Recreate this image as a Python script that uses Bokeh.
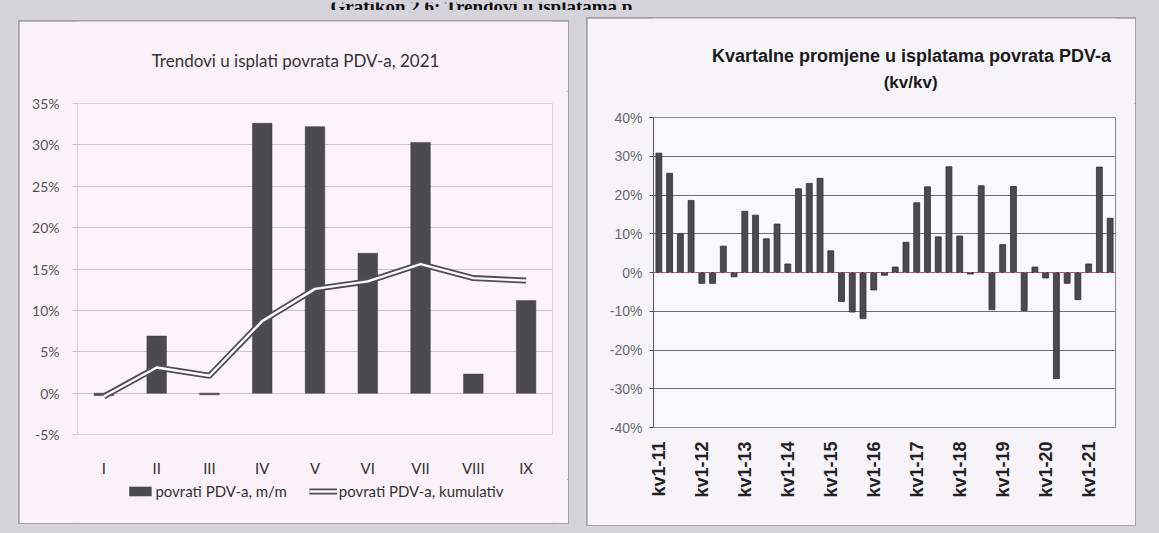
import numpy as np
from bokeh.plotting import figure
from bokeh.models import (Range1d, FactorRange, FixedTicker, PrintfTickFormatter,
                          Label, Legend, LegendItem, Span, ColumnDataSource, Spacer)
from bokeh.layouts import row, column
from bokeh.embed import file_html
from bokeh.resources import INLINE

# ---------------- data ----------------
months = ["I", "II", "III", "IV", "V", "VI", "VII", "VIII", "IX"]
mm_values = [-0.3, 6.9, -0.2, 32.6, 32.2, 16.9, 30.3, 2.3, 11.2]
cum_values = [-0.4, 3.1, 2.1, 8.7, 12.6, 13.5, 15.6, 13.9, 13.6]
left_ticks = [-5, 0, 5, 10, 15, 20, 25, 30, 35]

years = ["11", "12", "13", "14", "15", "16", "17", "18", "19", "20", "21"]
quarters = [f"kv{q}-{y}" for y in years for q in (1, 2, 3, 4)][:43]
qoq_values = [30.8, 25.6, 10.0, 18.6, -2.8, -2.8, 6.8, -1.1,
              15.8, 14.8, 8.7, 12.5, 2.2, 21.6, 23.0, 24.3,
              5.6, -7.5, -10.2, -11.9, -4.5, -0.7, 1.4, 7.8,
              18.0, 22.1, 9.2, 27.3, 9.4, -0.4, 22.4, -9.6,
              7.2, 22.2, -9.8, 1.4, -1.4, -27.4, -2.8, -7.0,
              2.2, 27.2, 14.0]
right_ticks = [-40, -30, -20, -10, 0, 10, 20, 30, 40]
right_tick_labels = [q for q in quarters if q.startswith("kv1")]

page_title = "Grafikon 2.6: Trendovi u isplatama p"
left_title = "Trendovi u isplati povrata PDV-a, 2021"
right_title = ["Kvartalne promjene u isplatama povrata PDV-a", "(kv/kv)"]
legend_labels = ["povrati PDV-a, m/m", "povrati PDV-a, kumulativ"]

LFONT = "Lato"
RFONT = "Liberation Sans"
PAGE_BG = "#d5d4da"
LBG = "#fbf2f9"
RBG = "#f6f4f9"
BAR = "#4b4a50"
BAR_EDGE = "#3a393e"
LINE_DARK = "#4f4e54"


def strip(w, h, bg, **kw):
    """A plain strip whose frame fills the figure; used for titles and legend."""
    f = figure(width=w, height=h, x_axis_location=None, y_axis_location=None,
               min_border=0, output_backend="svg", toolbar_location=None, **kw)
    f.title.visible = False
    f.grid.visible = False
    f.outline_line_color = None
    f.background_fill_color = bg
    f.border_fill_color = bg
    return f


# ---------------- page heading (cut by the scan) ----------------
top = strip(1159, 10, PAGE_BG, x_range=Range1d(0, 1159), y_range=Range1d(10, 0))
top.add_layout(Label(x=330, y=4, text=page_title, text_baseline="alphabetic",
                     text_font="Liberation Serif", text_font_style="bold",
                     text_font_size="19px", text_color="#111111"))

# ---------------- left chart ----------------
t1 = strip(549, 70, LBG, x_range=Range1d(0, 549), y_range=Range1d(70, 0))
t1.add_layout(Label(x=252, y=39, text=left_title, text_align="center",
                    text_baseline="middle", text_font=LFONT,
                    text_font_size="17px", text_color="#333333"))

p1 = figure(width=549, height=388, x_range=FactorRange(*months),
            y_range=Range1d(-5, 35), output_backend="svg", toolbar_location=None,
            min_border_left=58, min_border_right=16, min_border_top=12,
            min_border_bottom=45)
p1.title.visible = False
p1.background_fill_color = "#fcf4fa"
p1.border_fill_color = LBG
p1.outline_line_color = "#ddd3dc"

src1 = ColumnDataSource(dict(m=months, mm=mm_values, cum=cum_values))
p1.vbar(x="m", top="mm", width=0.37, source=src1,
        fill_color=BAR, line_color=BAR_EDGE, line_width=0.5)
p1.line(x="m", y="cum", source=src1, line_color=LINE_DARK, line_width=6,
        line_join="round")
p1.line(x="m", y="cum", source=src1, line_color="#ffffff", line_width=2.4,
        line_join="round")

p1.xgrid.visible = False
p1.ygrid.ticker = FixedTicker(ticks=left_ticks)
p1.ygrid.grid_line_color = "#cbc5cb"
p1.yaxis.ticker = FixedTicker(ticks=left_ticks)
p1.yaxis.formatter = PrintfTickFormatter(format="%d%%")
p1.yaxis.axis_line_color = None
p1.yaxis.major_tick_line_color = "#cbc5cb"
p1.yaxis.major_tick_out = 5
p1.yaxis.major_tick_in = 0
p1.yaxis.minor_tick_line_color = None
p1.yaxis.major_label_standoff = 13
p1.yaxis.major_label_text_font = LFONT
p1.yaxis.major_label_text_font_size = "14px"
p1.yaxis.major_label_text_color = "#555555"

p1.xaxis.axis_line_color = None
p1.xaxis.major_tick_line_color = None
p1.xaxis.minor_tick_line_color = None
p1.xaxis.major_label_standoff = 18
p1.xaxis.major_label_text_font = LFONT
p1.xaxis.major_label_text_font_size = "15px"
p1.xaxis.major_label_text_color = "#333333"

# legend strip under the left chart: same series, kept outside its visible range
lg1 = strip(549, 44, LBG, x_range=FactorRange(*months), y_range=Range1d(40, 41))
lg1.min_border_left = 0
lg1.min_border_right = 5
lg1.min_border_top = 3
lg1.min_border_bottom = 0
lb = lg1.vbar(x="m", top="mm", width=0.37, source=src1,
              fill_color=BAR, line_color=None)
lo = lg1.line(x="m", y="cum", source=src1, line_color=LINE_DARK, line_width=6)
li = lg1.line(x="m", y="cum", source=src1, line_color="#ffffff", line_width=2.4)
legend = Legend(items=[LegendItem(label=legend_labels[0], renderers=[lb]),
                       LegendItem(label=legend_labels[1], renderers=[lo, li])],
                orientation="horizontal", location="top_center",
                background_fill_alpha=0, border_line_color=None,
                glyph_width=28, glyph_height=12, label_text_font=LFONT,
                label_text_font_size="15px", label_text_color="#333333",
                spacing=22, label_standoff=2, margin=0, padding=4)
lg1.add_layout(legend, "center")

# ---------------- right chart ----------------
t2 = strip(548, 85, RBG, x_range=Range1d(0, 548), y_range=Range1d(85, 0))
t2.add_layout(Label(x=306, y=37, text=right_title[0], text_align="center",
                    text_baseline="middle", text_font=RFONT, text_font_style="bold",
                    text_font_size="18px", text_color="#1a1a1a"))
t2.add_layout(Label(x=305, y=64, text=right_title[1], text_align="center",
                    text_baseline="middle", text_font=RFONT, text_font_style="bold",
                    text_font_size="17px", text_color="#1a1a1a"))

qx = list(range(len(quarters)))
p2 = figure(width=548, height=422, x_range=Range1d(-0.5, len(quarters) - 0.5),
            y_range=Range1d(-40, 40), output_backend="svg", toolbar_location=None,
            min_border_left=66, min_border_right=20, min_border_top=14,
            min_border_bottom=98)
p2.title.visible = False
p2.background_fill_color = "#f9f8fc"
p2.border_fill_color = RBG
p2.outline_line_color = "#8a8a8e"

src2 = ColumnDataSource(dict(x=qx, q=quarters, v=qoq_values))
p2.vbar(x="x", top="v", width=0.55, source=src2,
        fill_color="#4a4a50", line_color="#2f2f34", line_width=0.8)

p2.xgrid.visible = False
p2.ygrid.ticker = FixedTicker(ticks=right_ticks)
p2.ygrid.grid_line_color = "#707074"
p2.yaxis.ticker = FixedTicker(ticks=right_ticks)
p2.yaxis.formatter = PrintfTickFormatter(format="%d%%")
p2.yaxis.axis_line_color = "#555558"
p2.yaxis.major_tick_line_color = "#555558"
p2.yaxis.major_tick_out = 4
p2.yaxis.major_tick_in = 0
p2.yaxis.minor_tick_line_color = None
p2.yaxis.major_label_standoff = 7
p2.yaxis.major_label_text_font = RFONT
p2.yaxis.major_label_text_font_size = "14px"
p2.yaxis.major_label_text_color = "#6a6a6e"

label_pos = [quarters.index(q) for q in right_tick_labels]
p2.xaxis.ticker = FixedTicker(ticks=label_pos)
p2.xaxis.major_label_overrides = {i: quarters[i] for i in label_pos}
p2.xaxis.axis_line_color = None
p2.xaxis.major_tick_line_color = None
p2.xaxis.minor_tick_line_color = None
p2.xaxis.major_label_orientation = np.pi / 2
p2.xaxis.major_label_standoff = 8
p2.xaxis.major_label_text_font = RFONT
p2.xaxis.major_label_text_font_style = "bold"
p2.xaxis.major_label_text_font_size = "18px"
p2.xaxis.major_label_text_color = "#222222"

p2.add_layout(Span(location=0, dimension="width", line_color="#d2506c",
                   line_dash="3 2", line_width=1))

# ---------------- page layout ----------------
PANEL_EDGE = "#a3a2a9"
left_panel = column(t1, p1, lg1, spacing=0,
                    styles={"background-color": LBG,
                            "outline": f"2px solid {PANEL_EDGE}",
                            "outline-offset": "-1px"})
right_panel = column(t2, p2, spacing=0,
                     styles={"background-color": RBG,
                             "outline": f"2px solid {PANEL_EDGE}",
                             "outline-offset": "-1px"})
left_col = column(Spacer(width=549, height=11), left_panel, spacing=0)
right_col = column(Spacer(width=548, height=8), right_panel, spacing=0)
body = row(Spacer(width=19, height=523), left_col, Spacer(width=19, height=523),
           right_col, Spacer(width=24, height=523), spacing=0,
           styles={"background-color": PAGE_BG})
layout = column(top, body, spacing=0, styles={"background-color": PAGE_BG})

open("out.html", "w").write(file_html(layout, INLINE))
